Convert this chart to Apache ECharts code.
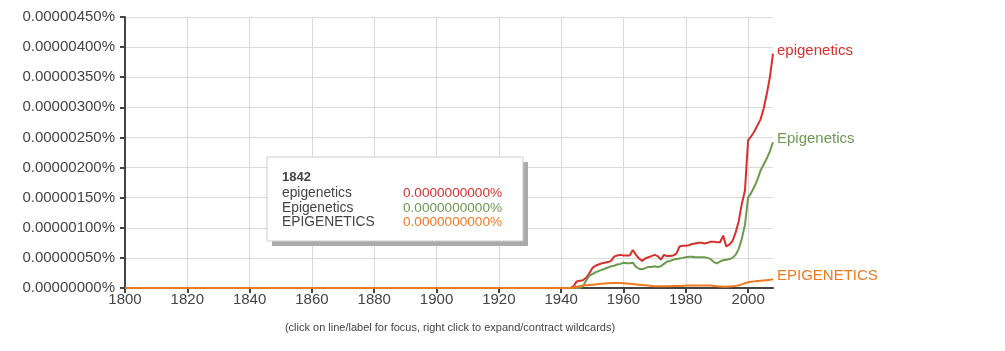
<!DOCTYPE html>
<html>
<head>
<meta charset="utf-8">
<script src="https://cdn.jsdelivr.net/npm/echarts@6/dist/echarts.min.js"></script>
<style>
html,body{margin:0;padding:0;background:#fff;}
#chart{width:1005px;height:351px;}
</style>
</head>
<body>
<div id="chart"></div>
<script>
// ---- data (values in percent) ----
const seriesNames = ['epigenetics', 'Epigenetics', 'EPIGENETICS'];
const seriesColors = ['#d92f2b', '#6b9a4f', '#ee7a1f'];
const firstYear = 1800;           // flat zero from here
const dataStartYear = 1943;        // yearly values from here
const lastYear = 2008;
const yTicks = [0, 0.0000005, 0.000001, 0.0000015, 0.000002, 0.0000025, 0.000003, 0.0000035, 0.000004, 0.0000045];
const xTickYears = [1800, 1820, 1840, 1860, 1880, 1900, 1920, 1940, 1960, 1980, 2000];

// 1943 .. 2008
const epigeneticsLower = [
  0, 0.03e-6, 0.11e-6, 0.12e-6, 0.13e-6, 0.17e-6, 0.24e-6, 0.33e-6, 0.37e-6, 0.39e-6,
  0.41e-6, 0.42e-6, 0.43e-6, 0.45e-6, 0.52e-6, 0.54e-6, 0.55e-6, 0.54e-6, 0.54e-6, 0.54e-6,
  0.63e-6, 0.55e-6, 0.49e-6, 0.45e-6, 0.49e-6, 0.51e-6, 0.53e-6, 0.55e-6, 0.53e-6, 0.47e-6,
  0.55e-6, 0.53e-6, 0.53e-6, 0.54e-6, 0.57e-6, 0.69e-6, 0.70e-6, 0.70e-6, 0.71e-6, 0.73e-6,
  0.74e-6, 0.75e-6, 0.75e-6, 0.74e-6, 0.75e-6, 0.77e-6, 0.77e-6, 0.76e-6, 0.76e-6, 0.87e-6,
  0.69e-6, 0.72e-6, 0.78e-6, 0.92e-6, 1.11e-6, 1.40e-6, 1.62e-6, 2.45e-6, 2.52e-6, 2.60e-6,
  2.70e-6, 2.80e-6, 2.98e-6, 3.22e-6, 3.50e-6, 3.89e-6
];
const epigeneticsCap = [
  0, 0, 0, 0, 0.03e-6, 0.12e-6, 0.20e-6, 0.23e-6, 0.26e-6, 0.28e-6,
  0.30e-6, 0.32e-6, 0.34e-6, 0.36e-6, 0.37e-6, 0.39e-6, 0.40e-6, 0.42e-6, 0.41e-6, 0.41e-6,
  0.42e-6, 0.35e-6, 0.32e-6, 0.31e-6, 0.33e-6, 0.35e-6, 0.35e-6, 0.36e-6, 0.35e-6, 0.36e-6,
  0.40e-6, 0.44e-6, 0.45e-6, 0.47e-6, 0.48e-6, 0.49e-6, 0.50e-6, 0.51e-6, 0.52e-6, 0.52e-6,
  0.51e-6, 0.51e-6, 0.51e-6, 0.51e-6, 0.50e-6, 0.48e-6, 0.43e-6, 0.41e-6, 0.44e-6, 0.46e-6,
  0.47e-6, 0.48e-6, 0.50e-6, 0.55e-6, 0.65e-6, 0.82e-6, 1.05e-6, 1.50e-6, 1.58e-6, 1.68e-6,
  1.80e-6, 1.95e-6, 2.05e-6, 2.15e-6, 2.27e-6, 2.42e-6
];
const epigeneticsUpper = [
  0, 0.01e-6, 0.02e-6, 0.03e-6, 0.04e-6, 0.045e-6, 0.05e-6, 0.055e-6, 0.06e-6, 0.065e-6,
  0.07e-6, 0.075e-6, 0.08e-6, 0.085e-6, 0.085e-6, 0.085e-6, 0.085e-6, 0.08e-6, 0.075e-6, 0.07e-6,
  0.065e-6, 0.06e-6, 0.055e-6, 0.05e-6, 0.045e-6, 0.04e-6, 0.035e-6, 0.03e-6, 0.03e-6, 0.03e-6,
  0.03e-6, 0.03e-6, 0.03e-6, 0.035e-6, 0.035e-6, 0.035e-6, 0.035e-6, 0.04e-6, 0.04e-6, 0.04e-6,
  0.04e-6, 0.04e-6, 0.04e-6, 0.04e-6, 0.04e-6, 0.04e-6, 0.035e-6, 0.03e-6, 0.025e-6, 0.02e-6,
  0.02e-6, 0.025e-6, 0.03e-6, 0.035e-6, 0.045e-6, 0.06e-6, 0.08e-6, 0.095e-6, 0.105e-6, 0.11e-6,
  0.115e-6, 0.12e-6, 0.125e-6, 0.13e-6, 0.135e-6, 0.145e-6
];
const tooltipYear = '1842';
const tooltipValues = ['0.0000000000%', '0.0000000000%', '0.0000000000%'];
const footerText = '(click on line/label for focus, right click to expand/contract wildcards)';

// ---- build ----
function toPairs(arr) {
  const out = [[firstYear, 0]];
  arr.forEach((v, i) => out.push([dataStartYear + i, v]));
  return out;
}
const allValues = [epigeneticsLower, epigeneticsCap, epigeneticsUpper];
const font = '"Liberation Sans", Arial, sans-serif';
const textColor = '#444';

const chart = echarts.init(document.getElementById('chart'), null, {renderer: 'canvas'});

const gridColors = xTickYears.map(() => '#d9d9d9').concat(['rgba(0,0,0,0)']);

const series = seriesNames.map((name, i) => ({
  name: name,
  type: 'line',
  data: toPairs(allValues[i]),
  showSymbol: false,
  symbol: 'none',
  smooth: false,
  lineStyle: {color: seriesColors[i], width: 2},
  itemStyle: {color: seriesColors[i]},
  z: 3 + i,
  animation: false,
  endLabel: {
    show: true,
    formatter: name,
    color: seriesColors[i],
    fontSize: 15,
    fontFamily: font,
    distance: 4,
    offset: [0, -3]
  }
}));

const tipX = 267, tipY = 157, tipW = 256, tipH = 84;
const graphic = [
  {type: 'rect', shape: {x: tipX + 5, y: tipY + 5, width: tipW, height: tipH}, style: {fill: '#aaaaaa'}, z: 100},
  {type: 'rect', shape: {x: tipX, y: tipY, width: tipW, height: tipH}, style: {fill: '#fff', stroke: '#cccccc', lineWidth: 1}, z: 101},
  {type: 'text', x: tipX + 15, y: tipY + 20, style: {text: tooltipYear, font: 'bold 13px ' + font, fill: '#444', textVerticalAlign: 'middle'}, z: 102}
];
seriesNames.forEach((name, i) => {
  graphic.push({type: 'text', x: tipX + 15, y: tipY + 36.5 + i * 14.3, style: {text: name, font: '13.8px ' + font, fill: '#444', textVerticalAlign: 'middle'}, z: 102});
  graphic.push({type: 'text', x: tipX + 136, y: tipY + 36.5 + i * 14.3, style: {text: tooltipValues[i], font: '13.6px ' + font, fill: seriesColors[i], textVerticalAlign: 'middle'}, z: 102});
});
graphic.push({type: 'text', x: 450, y: 328, style: {text: footerText, font: '11px ' + font, fill: '#444', textAlign: 'center', textVerticalAlign: 'middle'}, z: 102});

chart.setOption({
  animation: false,
  backgroundColor: '#fff',
  grid: {left: 125, right: 232, top: 17, bottom: 63, containLabel: false},
  xAxis: {
    type: 'value',
    min: firstYear,
    max: lastYear,
    interval: 20,
    axisLine: {show: true, onZero: false, lineStyle: {color: '#444', width: 2}},
    axisTick: {show: true, length: 5, lineStyle: {color: '#444', width: 2}},
    axisLabel: {
      color: textColor, fontSize: 15, fontFamily: font, margin: 4,
      showMaxLabel: false,
      formatter: v => (xTickYears.indexOf(v) >= 0 ? String(v) : '')
    },
    splitLine: {show: true, lineStyle: {color: gridColors, width: 1}}
  },
  yAxis: {
    type: 'value',
    min: yTicks[0],
    max: yTicks[yTicks.length - 1],
    interval: yTicks[1] - yTicks[0],
    axisLine: {show: true, lineStyle: {color: '#444', width: 2}},
    axisTick: {show: true, length: 5, lineStyle: {color: '#444', width: 2}},
    axisLabel: {
      color: textColor, fontSize: 15, fontFamily: font, margin: 10,
      formatter: v => v.toFixed(8) + '%'
    },
    splitLine: {show: true, lineStyle: {color: '#d9d9d9', width: 1}}
  },
  series: series,
  graphic: graphic
});
</script>
</body>
</html>
